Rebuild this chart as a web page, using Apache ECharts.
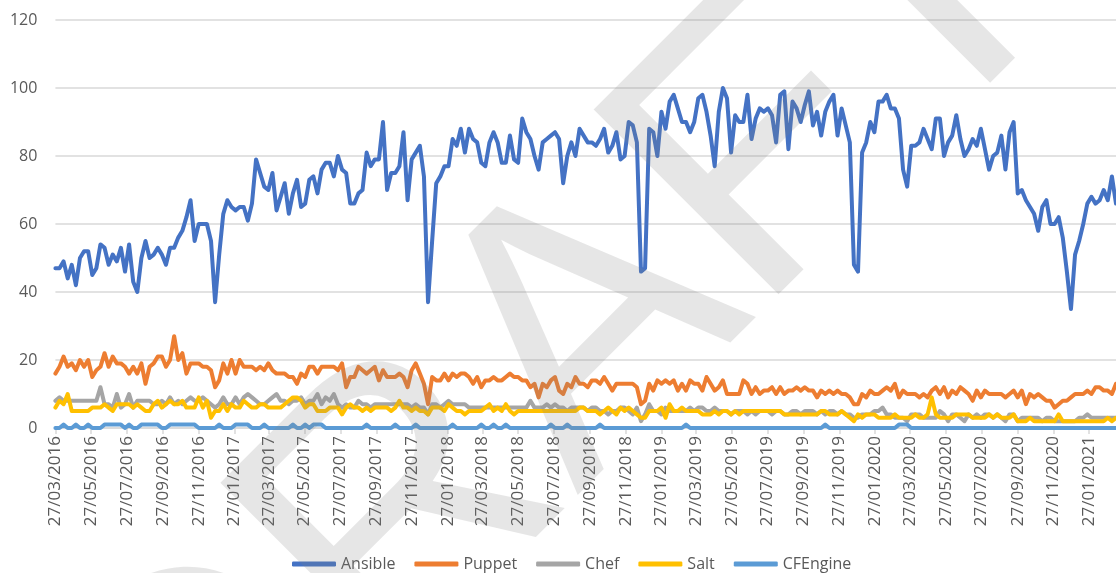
<!DOCTYPE html>
<html>
<head>
<meta charset="utf-8">
<title>Ansible / Puppet / Chef / Salt / CFEngine</title>
<script src="https://cdn.jsdelivr.net/npm/echarts@6/dist/echarts.min.js"></script>
<style>
html,body{margin:0;padding:0;background:#fff;}
#chart{width:1116px;height:573px;}
</style>
</head>
<body>
<div id="chart"></div>
<script>
"use strict";

// weekly points, first one is this sunday
var firstWeek = "2016-03-27";

var tickLabels = [
  "27/03/2016","27/05/2016","27/07/2016","27/09/2016","27/11/2016",
  "27/01/2017","27/03/2017","27/05/2017","27/07/2017","27/09/2017","27/11/2017",
  "27/01/2018","27/03/2018","27/05/2018","27/07/2018","27/09/2018","27/11/2018",
  "27/01/2019","27/03/2019","27/05/2019","27/07/2019","27/09/2019","27/11/2019",
  "27/01/2020","27/03/2020","27/05/2020","27/07/2020","27/09/2020","27/11/2020",
  "27/01/2021"
];

var ansible = [
  47,47,49,44,48,42,50,52,52,45,47,54,53,48,51,49,53,46,54,43,
  40,50,55,50,51,53,51,48,53,53,56,58,62,67,55,60,60,60,55,37,
  51,63,67,65,64,65,65,61,66,79,75,71,70,75,64,68,72,63,69,73,
  65,66,73,74,69,76,78,78,74,80,76,75,66,66,69,70,81,77,79,79,
  90,70,75,75,77,87,67,79,81,83,74,37,55,72,74,77,77,85,83,88,
  81,88,85,84,78,77,84,87,84,78,78,86,79,78,91,87,85,80,76,84,
  85,86,87,85,72,80,84,80,88,86,84,84,83,85,88,81,83,87,79,80,
  90,89,84,46,47,88,87,80,93,88,96,98,94,90,90,87,90,97,98,93,
  86,77,93,100,97,81,92,90,90,98,85,91,94,93,94,92,84,98,99,82,
  96,94,90,95,99,89,93,86,93,96,98,86,94,89,84,48,46,81,84,90,
  87,96,96,98,94,94,91,76,71,83,83,84,88,85,82,91,91,80,84,86,
  92,85,80,82,85,83,88,82,76,80,81,86,76,87,90,69,70,67,65,63,
  58,65,67,60,60,62,56,46,35,51,55,60,66,68,66,67,70,67,74,66
];

var puppet = [
  16,18,21,18,19,17,20,18,20,15,17,18,22,18,21,19,19,18,16,18,
  16,19,13,18,19,21,21,18,20,27,20,22,16,19,19,19,18,18,17,12,
  14,19,16,20,16,20,18,18,18,17,18,17,19,17,16,16,16,15,15,13,
  16,15,18,18,16,18,18,18,18,17,19,12,15,15,18,17,16,17,18,14,
  17,15,15,15,16,15,12,17,19,16,13,7,15,14,14,16,14,16,15,16,
  16,15,13,15,12,14,14,15,14,14,15,16,15,15,14,14,12,13,9,13,
  12,14,15,11,10,13,12,15,13,13,12,14,14,13,15,13,11,13,13,13,
  13,13,12,7,8,13,11,14,13,14,13,14,11,13,11,14,13,13,11,15,
  13,11,12,14,10,10,10,10,14,13,10,12,10,11,11,12,10,12,10,11,
  11,12,11,12,11,11,9,11,10,11,10,11,10,10,9,7,7,10,9,11,
  10,10,11,12,11,13,9,11,10,10,10,9,10,9,11,12,10,12,9,11,
  10,12,11,10,8,11,9,11,10,10,10,10,9,10,11,9,11,7,10,9,
  10,9,8,8,6,7,8,8,9,10,10,10,11,10,12,12,11,11,10,13
];

var chef = [
  8,9,8,8,8,8,8,8,8,8,8,12,7,7,6,10,6,7,10,6,
  8,8,8,8,7,7,8,7,9,7,8,7,8,9,8,8,9,8,7,6,
  7,9,7,7,9,7,9,10,9,8,7,7,8,9,10,8,8,7,8,8,
  9,7,8,8,10,7,9,8,10,7,6,7,6,6,8,7,7,6,7,7,
  7,7,7,7,7,7,7,6,7,6,6,4,7,7,6,7,8,7,7,7,
  7,6,6,6,6,6,6,6,6,6,6,6,6,6,6,6,8,6,6,6,
  7,6,7,6,6,5,6,6,6,6,5,6,6,5,5,4,5,5,6,6,
  5,4,6,2,4,7,5,5,4,6,5,5,5,5,5,6,5,6,6,5,
  5,6,5,5,5,4,5,5,5,4,5,4,5,5,5,4,5,5,4,4,
  5,5,4,5,5,5,4,5,4,5,5,4,5,4,4,3,3,4,4,4,
  5,5,6,4,4,3,3,3,2,4,4,4,3,3,3,3,5,4,2,4,
  4,3,2,4,3,4,3,4,4,3,4,3,2,4,4,2,3,3,3,3,
  3,2,3,3,2,2,2,2,2,2,3,3,4,3,3,3,3,3,3,3
];

var salt = [
  6,8,7,10,5,5,5,5,5,6,6,6,7,6,5,7,7,7,7,6,
  7,6,5,5,7,8,6,7,8,7,7,8,6,6,6,9,6,8,3,5,
  5,7,5,7,6,6,8,7,6,6,7,7,6,6,6,6,7,8,9,9,
  8,6,7,7,5,5,5,6,6,6,4,6,7,6,6,5,6,5,6,6,
  6,6,5,6,8,6,6,5,6,5,5,4,6,6,6,5,7,6,5,5,
  4,5,5,5,5,6,7,5,6,5,7,5,4,5,5,5,5,5,5,5,
  5,5,5,5,5,5,5,5,6,6,5,5,5,4,5,6,5,4,6,5,
  6,5,4,3,3,5,5,5,6,3,7,5,5,6,5,5,5,5,4,4,
  4,5,4,5,5,4,5,4,5,5,5,5,5,5,5,5,5,5,4,4,
  4,4,4,4,4,4,4,5,5,4,4,4,5,4,3,2,4,3,4,4,
  4,3,3,3,3,4,3,3,3,3,4,3,3,4,9,4,3,3,3,3,
  4,4,4,4,3,3,3,3,4,3,4,3,3,3,4,2,2,2,3,2,
  2,2,2,2,2,4,2,2,2,2,2,2,2,2,2,2,2,3,2,3
];

var cfengine = [
  0,0,1,0,0,1,0,0,1,0,0,0,1,1,1,1,1,0,1,0,
  0,1,1,1,1,1,0,0,1,1,1,1,1,1,1,0,0,0,0,0,
  1,0,0,0,1,1,1,1,0,0,0,1,0,0,0,0,0,0,1,0,
  0,1,0,1,1,1,0,0,0,0,0,0,0,0,0,0,1,0,0,0,
  0,0,0,1,0,0,0,0,1,0,0,0,0,0,0,0,0,1,0,0,
  0,0,0,0,1,0,0,1,0,0,1,0,0,0,0,0,0,0,0,0,
  0,1,0,0,0,1,0,0,0,0,0,0,0,1,0,0,0,0,0,0,
  0,0,0,0,0,0,0,0,0,0,0,0,0,0,1,0,0,0,0,0,
  0,0,0,0,0,0,0,0,0,0,0,0,0,0,0,0,0,0,0,0,
  0,0,0,0,0,0,0,0,1,0,0,0,0,0,0,0,0,0,0,0,
  0,0,0,0,0,0,1,1,1,0,0,0,0,0,0,0,0,0,0,0,
  0,0,0,0,0,0,0,0,0,0,0,0,0,0,0,0,0,0,0,0,
  0,0,0,0,0,0,0,0,0,0,0,0,0,0,0,0,0,0,0,0
];

var seriesNames = ["Ansible","Puppet","Chef","Salt","CFEngine"];
var seriesValues = [ansible, puppet, chef, salt, cfengine];
var seriesColors = ["#4472C4","#ED7D31","#A5A5A5","#FFC000","#5B9BD5"];
var watermark = "DRAFT";

var FONT = '"Open Sans","Segoe UI","Liberation Sans",sans-serif';
var DAY = 86400000;

function parseDMY(s){
  var p = s.split("/");
  return Date.UTC(+p[2], +p[1]-1, +p[0]);
}

var t0 = Date.parse(firstWeek);
var weeks = ansible.map(function(v,i){ return t0 + i*7*DAY; });
var tickValues = tickLabels.map(parseDMY);

function tickText(v){
  for (var i=0;i<tickValues.length;i++){
    if (Math.abs(tickValues[i]-v) < DAY) return tickLabels[i];
  }
  return "";
}

var chart = echarts.init(document.getElementById("chart"), null, {renderer:"canvas"});

var option = {
  animation: false,
  backgroundColor: "#fff",
  textStyle: {fontFamily: FONT},
  grid: {left: 55.4, right: 0, top: 20, bottom: 145, containLabel: false},
  legend: {
    left: 287, top: 551,
    itemWidth: 44, itemHeight: 5, itemGap: 19,
    icon: "roundRect",
    textStyle: {fontSize: 16, color: "#595959", fontFamily: FONT},
    data: seriesNames
  },
  xAxis: {
    type: "value",
    min: weeks[0],
    max: weeks[weeks.length-1],
    splitLine: {show: false},
    axisLine: {show: true, lineStyle: {color: "#D9D9D9", width: 1.5}},
    axisTick: {show: true, customValues: tickValues, length: 6, lineStyle: {color: "#D9D9D9", width: 1.5}},
    axisLabel: {
      customValues: tickValues,
      rotate: 90,
      margin: 8,
      fontSize: 17,
      color: "#595959",
      fontFamily: FONT,
      formatter: tickText
    }
  },
  yAxis: {
    type: "value",
    min: 0, max: 120, interval: 20,
    axisLine: {show: false},
    axisTick: {show: false},
    splitLine: {lineStyle: {color: "#D9D9D9", width: 1.5}},
    axisLabel: {fontSize: 16, color: "#595959", margin: 18, fontFamily: FONT}
  },
  series: seriesNames.map(function(name, k){
    return {
      name: name,
      type: "line",
      symbol: "none",
      color: seriesColors[k],
      lineStyle: {width: 4, color: seriesColors[k], join: "round", cap: "round"},
      z: 2 + k,
      data: weeks.map(function(t,i){ return [t, seriesValues[k][i]]; })
    };
  }),
  // watermark over the plot, 45deg
  graphic: [{
    type: "group",
    x: 659, y: 458,
    rotation: Math.PI/4,
    silent: true,
    z: 100,
    children: [{
      type: "text",
      x: 0, y: -136,
      z: 100,
      style: {
        text: watermark,
        font: '380px "Liberation Sans"',
        fill: "rgba(128,128,128,0.2)",
        align: "center", verticalAlign: "middle",
        textAlign: "center", textVerticalAlign: "middle"
      }
    }]
  }]
};

chart.setOption(option);
</script>
</body>
</html>
